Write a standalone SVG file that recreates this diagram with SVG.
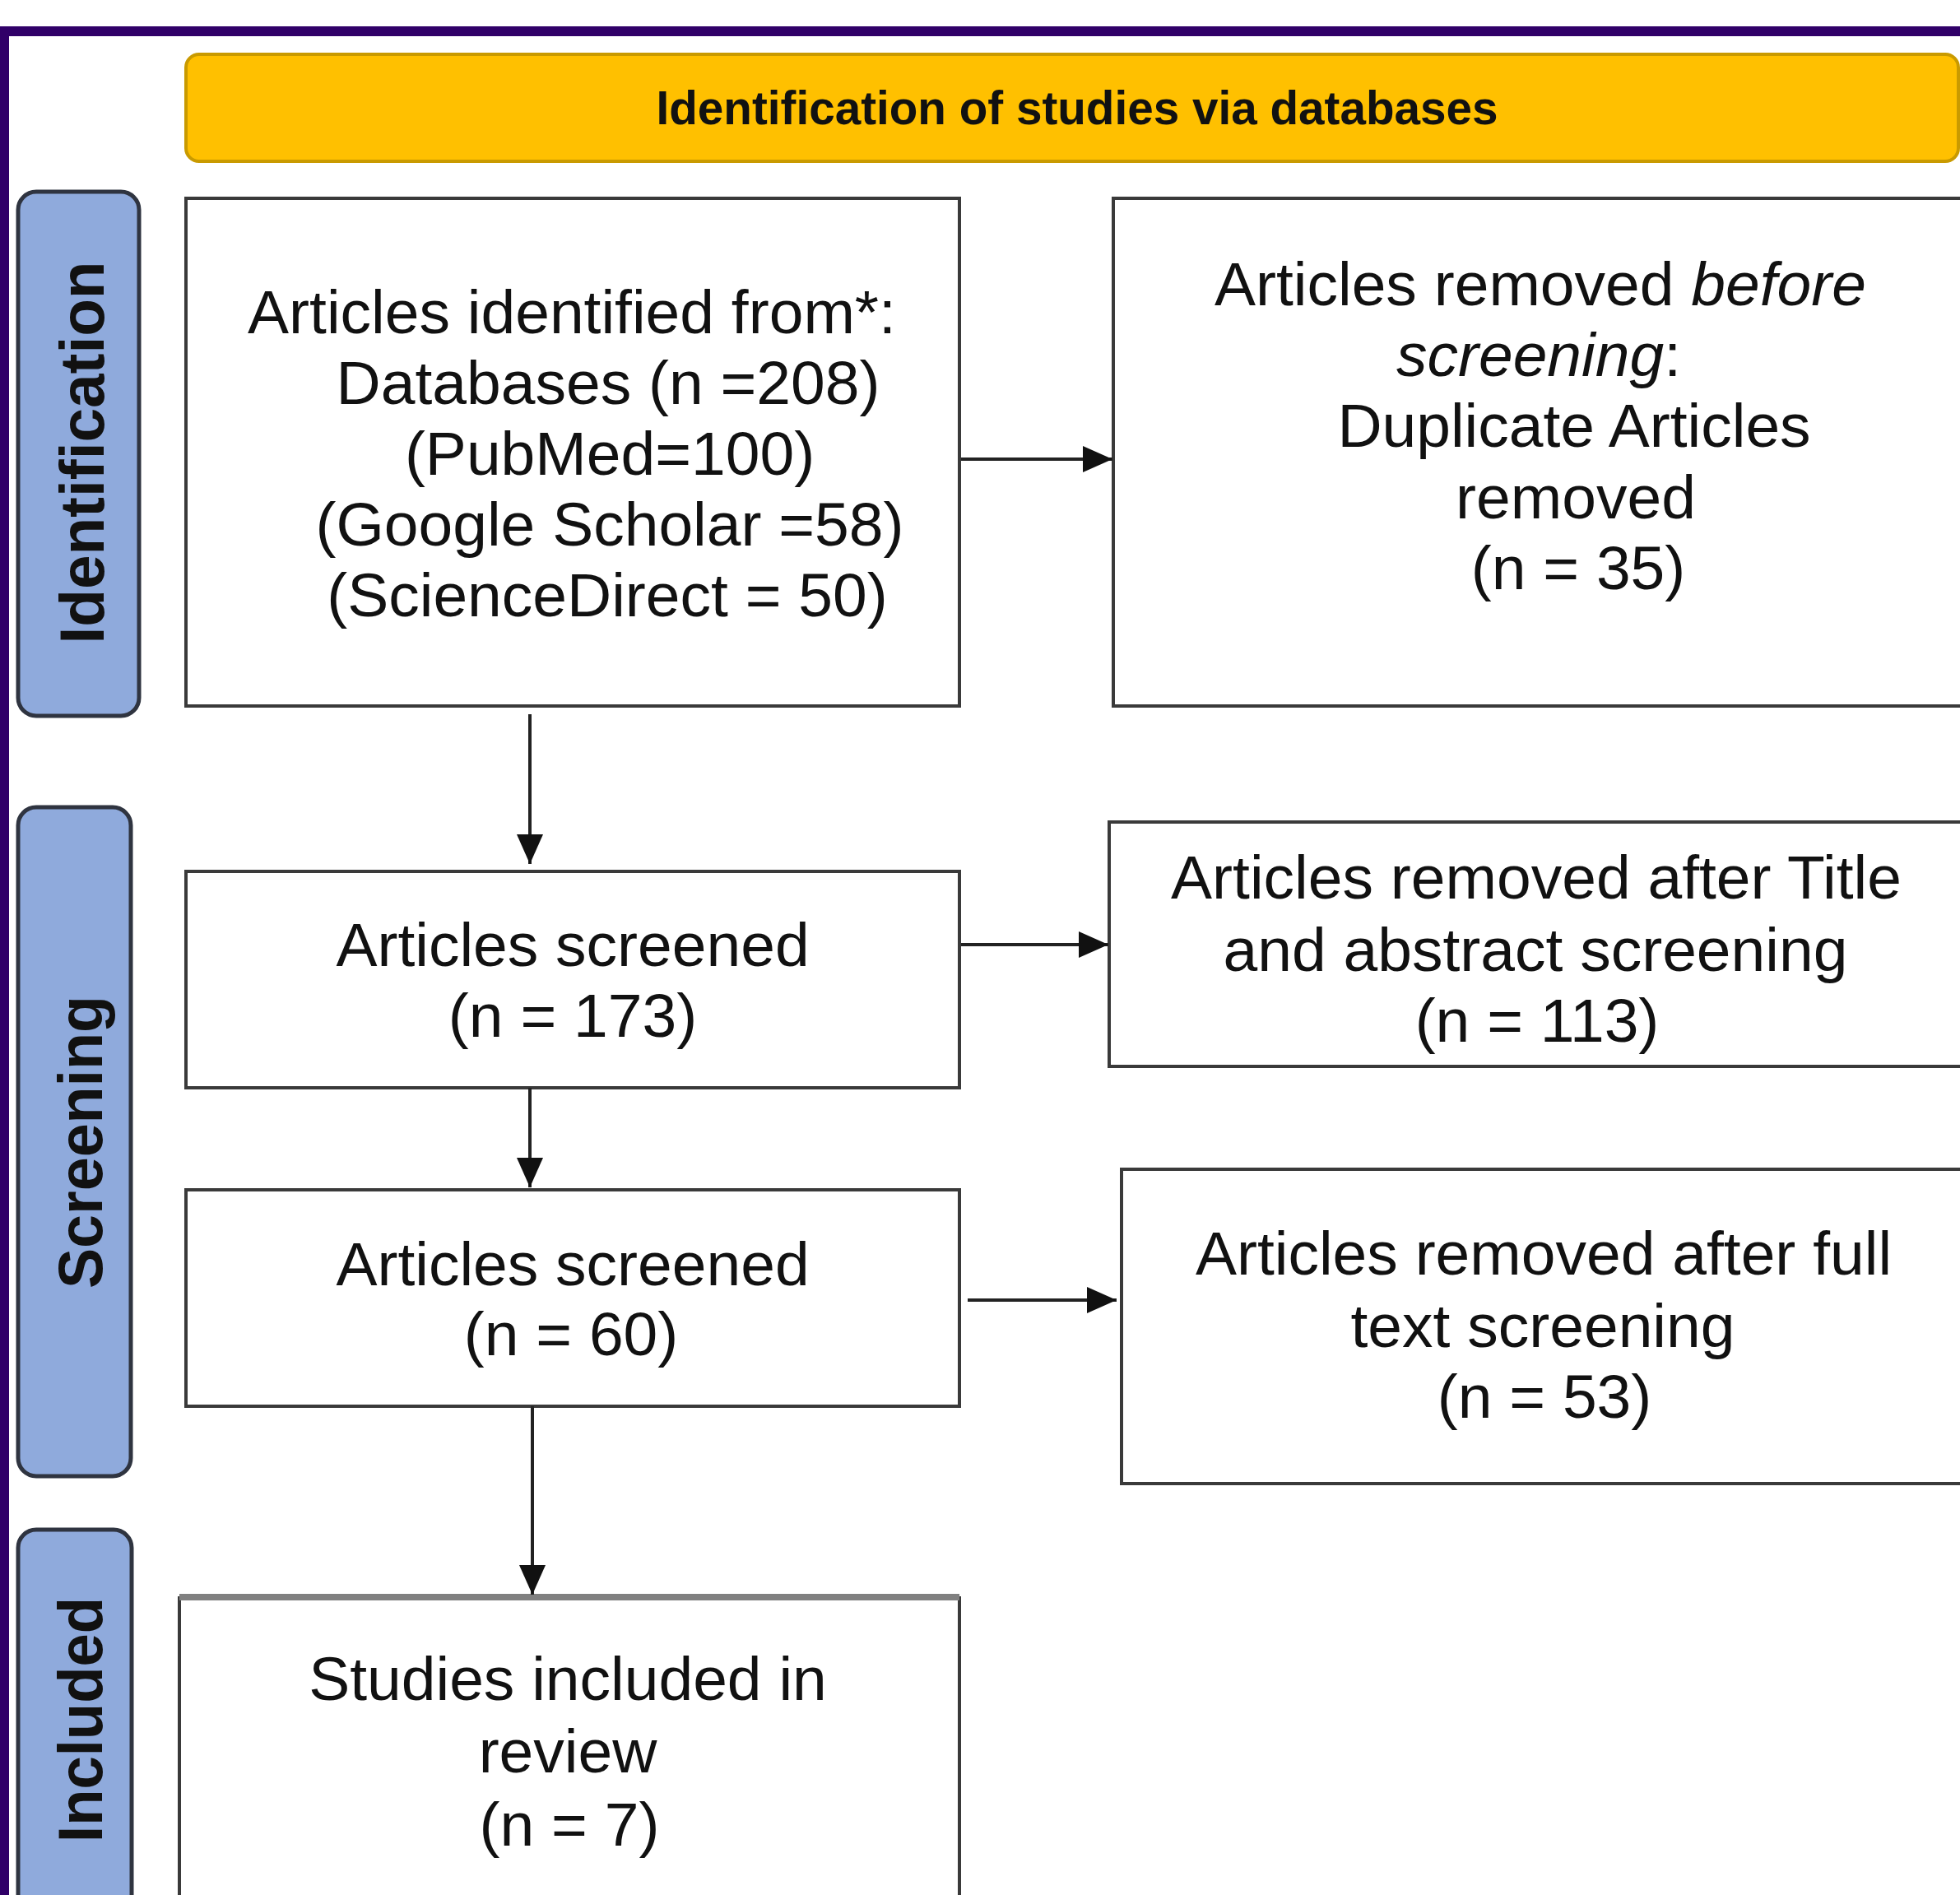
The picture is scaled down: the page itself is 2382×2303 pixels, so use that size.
<svg xmlns="http://www.w3.org/2000/svg" width="2382" height="2303" viewBox="0 0 2382 2303">
<defs>
<style>
.t{font-family:"Liberation Sans",Arial,sans-serif;font-size:75px;fill:#111;text-anchor:middle}
.side{font-family:"Liberation Sans",Arial,sans-serif;font-size:76px;font-weight:bold;fill:#111;text-anchor:middle}
.box{fill:#fff;stroke:#3a3a3a;stroke-width:4}
.sbox{fill:#8FAADC;stroke:#2f3440;stroke-width:5}
.conn{stroke:#222;stroke-width:4;fill:none;marker-end:url(#ah)}
</style>
<marker id="ah" viewBox="0 0 36 32" refX="36" refY="16" markerWidth="36" markerHeight="32" markerUnits="userSpaceOnUse" orient="auto">
<path d="M0,0 L36,16 L0,32 Z" fill="#111"/>
</marker>
</defs>
<rect width="2382" height="2303" fill="#fff"/>
<rect id="frame" x="5" y="38" width="2420" height="2400" fill="none" stroke="#300068" stroke-width="12"/>

<g id="header">
<rect x="226" y="66" width="2154" height="130" rx="16" fill="#FFC000" stroke="#C99A00" stroke-width="4"/>
<text x="1309" y="151" style="font-family:'Liberation Sans',Arial,sans-serif;font-size:58px;font-weight:bold;fill:#111;text-anchor:middle" textLength="1023" lengthAdjust="spacingAndGlyphs">Identification of studies via databases</text>
</g>

<g id="side-identification">
<rect class="sbox" x="22" y="233" width="147" height="637" rx="22"/>
<text class="side" transform="translate(126,550) rotate(-90)" textLength="465" lengthAdjust="spacingAndGlyphs">Identification</text>
</g>
<g id="side-screening">
<rect class="sbox" x="22" y="981" width="137" height="813" rx="22"/>
<text class="side" transform="translate(124,1388) rotate(-90)" textLength="356" lengthAdjust="spacingAndGlyphs">Screening</text>
</g>
<g id="side-included">
<rect class="sbox" x="22" y="1859" width="138" height="520" rx="22"/>
<text class="side" transform="translate(124,2090) rotate(-90)" textLength="298" lengthAdjust="spacingAndGlyphs">Included</text>
</g>

<g id="n-identified">
<rect class="box" x="226" y="241" width="940" height="617"/>
<text class="t" x="695" y="405">Articles identified from*:</text>
<text class="t" x="739" y="491">Databases (n =208)</text>
<text class="t" x="741" y="577">(PubMed=100)</text>
<text class="t" x="741" y="663">(Google Scholar =58)</text>
<text class="t" x="738" y="749">(ScienceDirect = 50)</text>
</g>

<g id="n-removed-before">
<rect class="box" x="1353" y="241" width="1060" height="617"/>
<text class="t" x="1872" y="371">Articles removed <tspan font-style="italic">before</tspan></text>
<text class="t" x="1870" y="457"><tspan font-style="italic">screening</tspan>:</text>
<text class="t" x="1913" y="543">Duplicate Articles</text>
<text class="t" x="1915" y="630">removed</text>
<text class="t" x="1918" y="716">(n = 35)</text>
</g>

<g id="n-screened-173">
<rect class="box" x="226" y="1059" width="940" height="263" stroke="#111"/>
<text class="t" x="696" y="1174">Articles screened</text>
<text class="t" x="696" y="1260">(n = 173)</text>
</g>

<g id="n-removed-title">
<rect class="box" x="1348" y="999" width="1060" height="297" stroke="#222"/>
<text class="t" x="1867" y="1092">Articles removed after Title</text>
<text class="t" x="1866" y="1180">and abstract screening</text>
<text class="t" x="1868" y="1266">(n = 113)</text>
</g>

<g id="n-screened-60">
<rect class="box" x="226" y="1446" width="940" height="263"/>
<text class="t" x="696" y="1562">Articles screened</text>
<text class="t" x="694" y="1647">(n = 60)</text>
</g>

<g id="n-removed-full">
<rect class="box" x="1363" y="1421" width="1060" height="382"/>
<text class="t" x="1876" y="1549">Articles removed after full</text>
<text class="t" x="1875" y="1637">text screening</text>
<text class="t" x="1877" y="1723">(n = 53)</text>
</g>

<g id="n-included">
<rect class="box" x="218" y="1942" width="948" height="420" stroke="#1a1a1a" stroke-width="3"/>
<line x1="218" y1="1941" x2="1166" y2="1941" stroke="#808080" stroke-width="8"/>
<text class="t" x="690" y="2066">Studies included in</text>
<text class="t" x="690" y="2154">review</text>
<text class="t" x="692" y="2243">(n = 7)</text>
</g>

<g id="connectors">
<line class="conn" x1="1168" y1="558" x2="1352" y2="558"/>
<line class="conn" x1="644" y1="868" x2="644" y2="1050"/>
<line class="conn" x1="1168" y1="1148" x2="1347" y2="1148"/>
<line class="conn" x1="644" y1="1322" x2="644" y2="1443"/>
<line class="conn" x1="1176" y1="1580" x2="1357" y2="1580"/>
<line class="conn" x1="647" y1="1709" x2="647" y2="1938"/>
</g>
</svg>
